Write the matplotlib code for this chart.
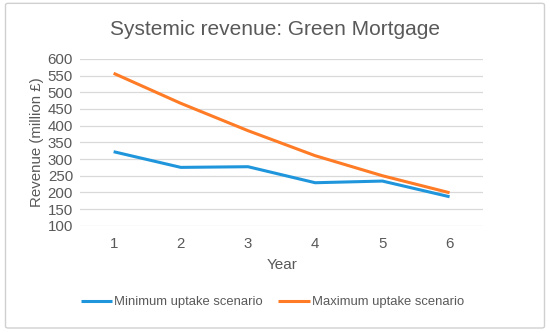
import matplotlib.pyplot as plt
from matplotlib.patches import FancyBboxPatch

plt.rcParams["font.family"] = ["Liberation Sans", "DejaVu Sans"]

years = [1, 2, 3, 4, 5, 6]
min_uptake = [322, 275, 277, 229, 234, 187]
max_uptake = [557, 467, 385, 310, 250, 199]
y_ticks = [100, 150, 200, 250, 300, 350, 400, 450, 500, 550, 600]

TEXT = "#595959"
GRID = "#d9d9d9"

fig = plt.figure(figsize=(5.5, 3.33), dpi=100)
ax = fig.add_axes([0.1455, 0.322, 0.733, 0.501])

ax.plot(years, min_uptake, color="#1f96dc", lw=2.2, label="Minimum uptake scenario",
        solid_capstyle="butt")
ax.plot(years, max_uptake, color="#ff7b25", lw=2.2, label="Maximum uptake scenario",
        solid_capstyle="butt")

ax.set_xlim(0.5, 6.5)
ax.set_ylim(100, 600)
ax.set_yticks(y_ticks)
ax.set_xticks(years)
ax.grid(axis="y", color=GRID, lw=0.9)
ax.set_axisbelow(True)
for s in ax.spines.values():
    s.set_visible(False)
ax.tick_params(length=0, labelsize=10.8, colors=TEXT, pad=5)
ax.tick_params(axis="x", pad=8)

ax.set_xlabel("Year", fontsize=11, color=TEXT, labelpad=5)
ax.set_ylabel("Revenue (million £)", fontsize=10.8, color=TEXT, labelpad=3)

fig.text(0.5, 0.912, "Systemic revenue: Green Mortgage", ha="center", va="center",
         fontsize=15, color=TEXT)

fig.legend(loc="center", bbox_to_anchor=(0.495, 0.093), ncol=2, frameon=False,
           fontsize=9.4, labelcolor=TEXT, handlelength=2.4, handletextpad=0.15,
           columnspacing=1.2)

# chart border
border = FancyBboxPatch((0.01, 0.015), 0.98, 0.975, boxstyle="round,pad=0,rounding_size=0.005",
                        transform=fig.transFigure, fill=False, edgecolor="#d0d0d0", lw=1.0)
fig.patches.append(border)

fig.savefig("out.png", dpi=100)
